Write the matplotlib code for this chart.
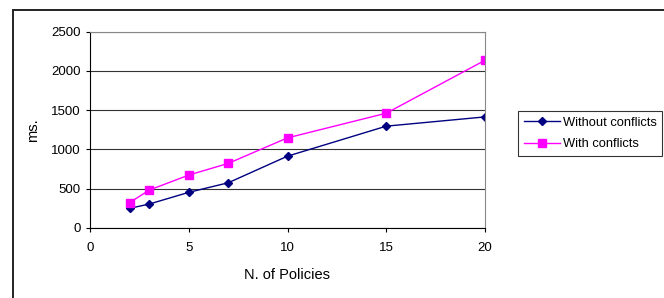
import matplotlib.pyplot as plt
from matplotlib.patches import Rectangle

plt.rcParams['font.family'] = ['Liberation Sans', 'DejaVu Sans']

policies = [2, 3, 5, 7, 10, 15, 20]
without_conflicts = [250, 305, 454, 576, 915, 1297, 1415]
with_conflicts = [322, 483, 674, 823, 1148, 1462, 2136]

W, H = 664, 298
fig = plt.figure(figsize=(W / 100, H / 100), dpi=100)
ax = fig.add_axes([90 / W, 1 - 228 / H, (485 - 90) / W, (228 - 31.7) / H])

# outer chart frame (cut off at right and bottom)
fig.patches.append(Rectangle((13 / W, -0.1), 1.5, 1 - 10 / H + 0.1,
                             transform=fig.transFigure, fill=False,
                             edgecolor='#222222', linewidth=1.4))

ax.plot(policies, without_conflicts, color='#000080', marker='D', markersize=4.5,
        linewidth=1, label='Without conflicts')
ax.plot(policies, with_conflicts, color='#FF00FF', marker='s', markersize=6,
        linewidth=1, label='With conflicts')

ax.set_xlim(0, 20)
ax.set_ylim(0, 2500)
ax.set_xticks([0, 5, 10, 15, 20])
ax.set_yticks(range(0, 2501, 500))
ax.yaxis.grid(True, color='#333333', linewidth=0.8)
ax.set_axisbelow(True)
for s in ['top', 'right']:
    ax.spines[s].set_color('#888888')
    ax.spines[s].set_linewidth(0.8)
ax.spines['left'].set_color('black')
ax.spines['bottom'].set_color('black')
ax.tick_params(direction='out', length=3, labelsize=9.5, width=0.8)
ax.tick_params(axis='x', pad=7)

ax.set_xlabel('N. of Policies', fontsize=10.5, labelpad=10)
ax.set_ylabel('ms.', fontsize=10.5, labelpad=8)

leg = ax.legend(loc='upper left', bbox_to_anchor=(518 / W, 1 - 110.7 / H),
                bbox_transform=fig.transFigure, fontsize=9.3, frameon=True,
                fancybox=False, edgecolor='black', borderpad=0.45,
                handlelength=2.8, handletextpad=0.2, labelspacing=0.75,
                borderaxespad=0)
leg.get_frame().set_linewidth(0.8)

fig.savefig('out.png', dpi=100)
